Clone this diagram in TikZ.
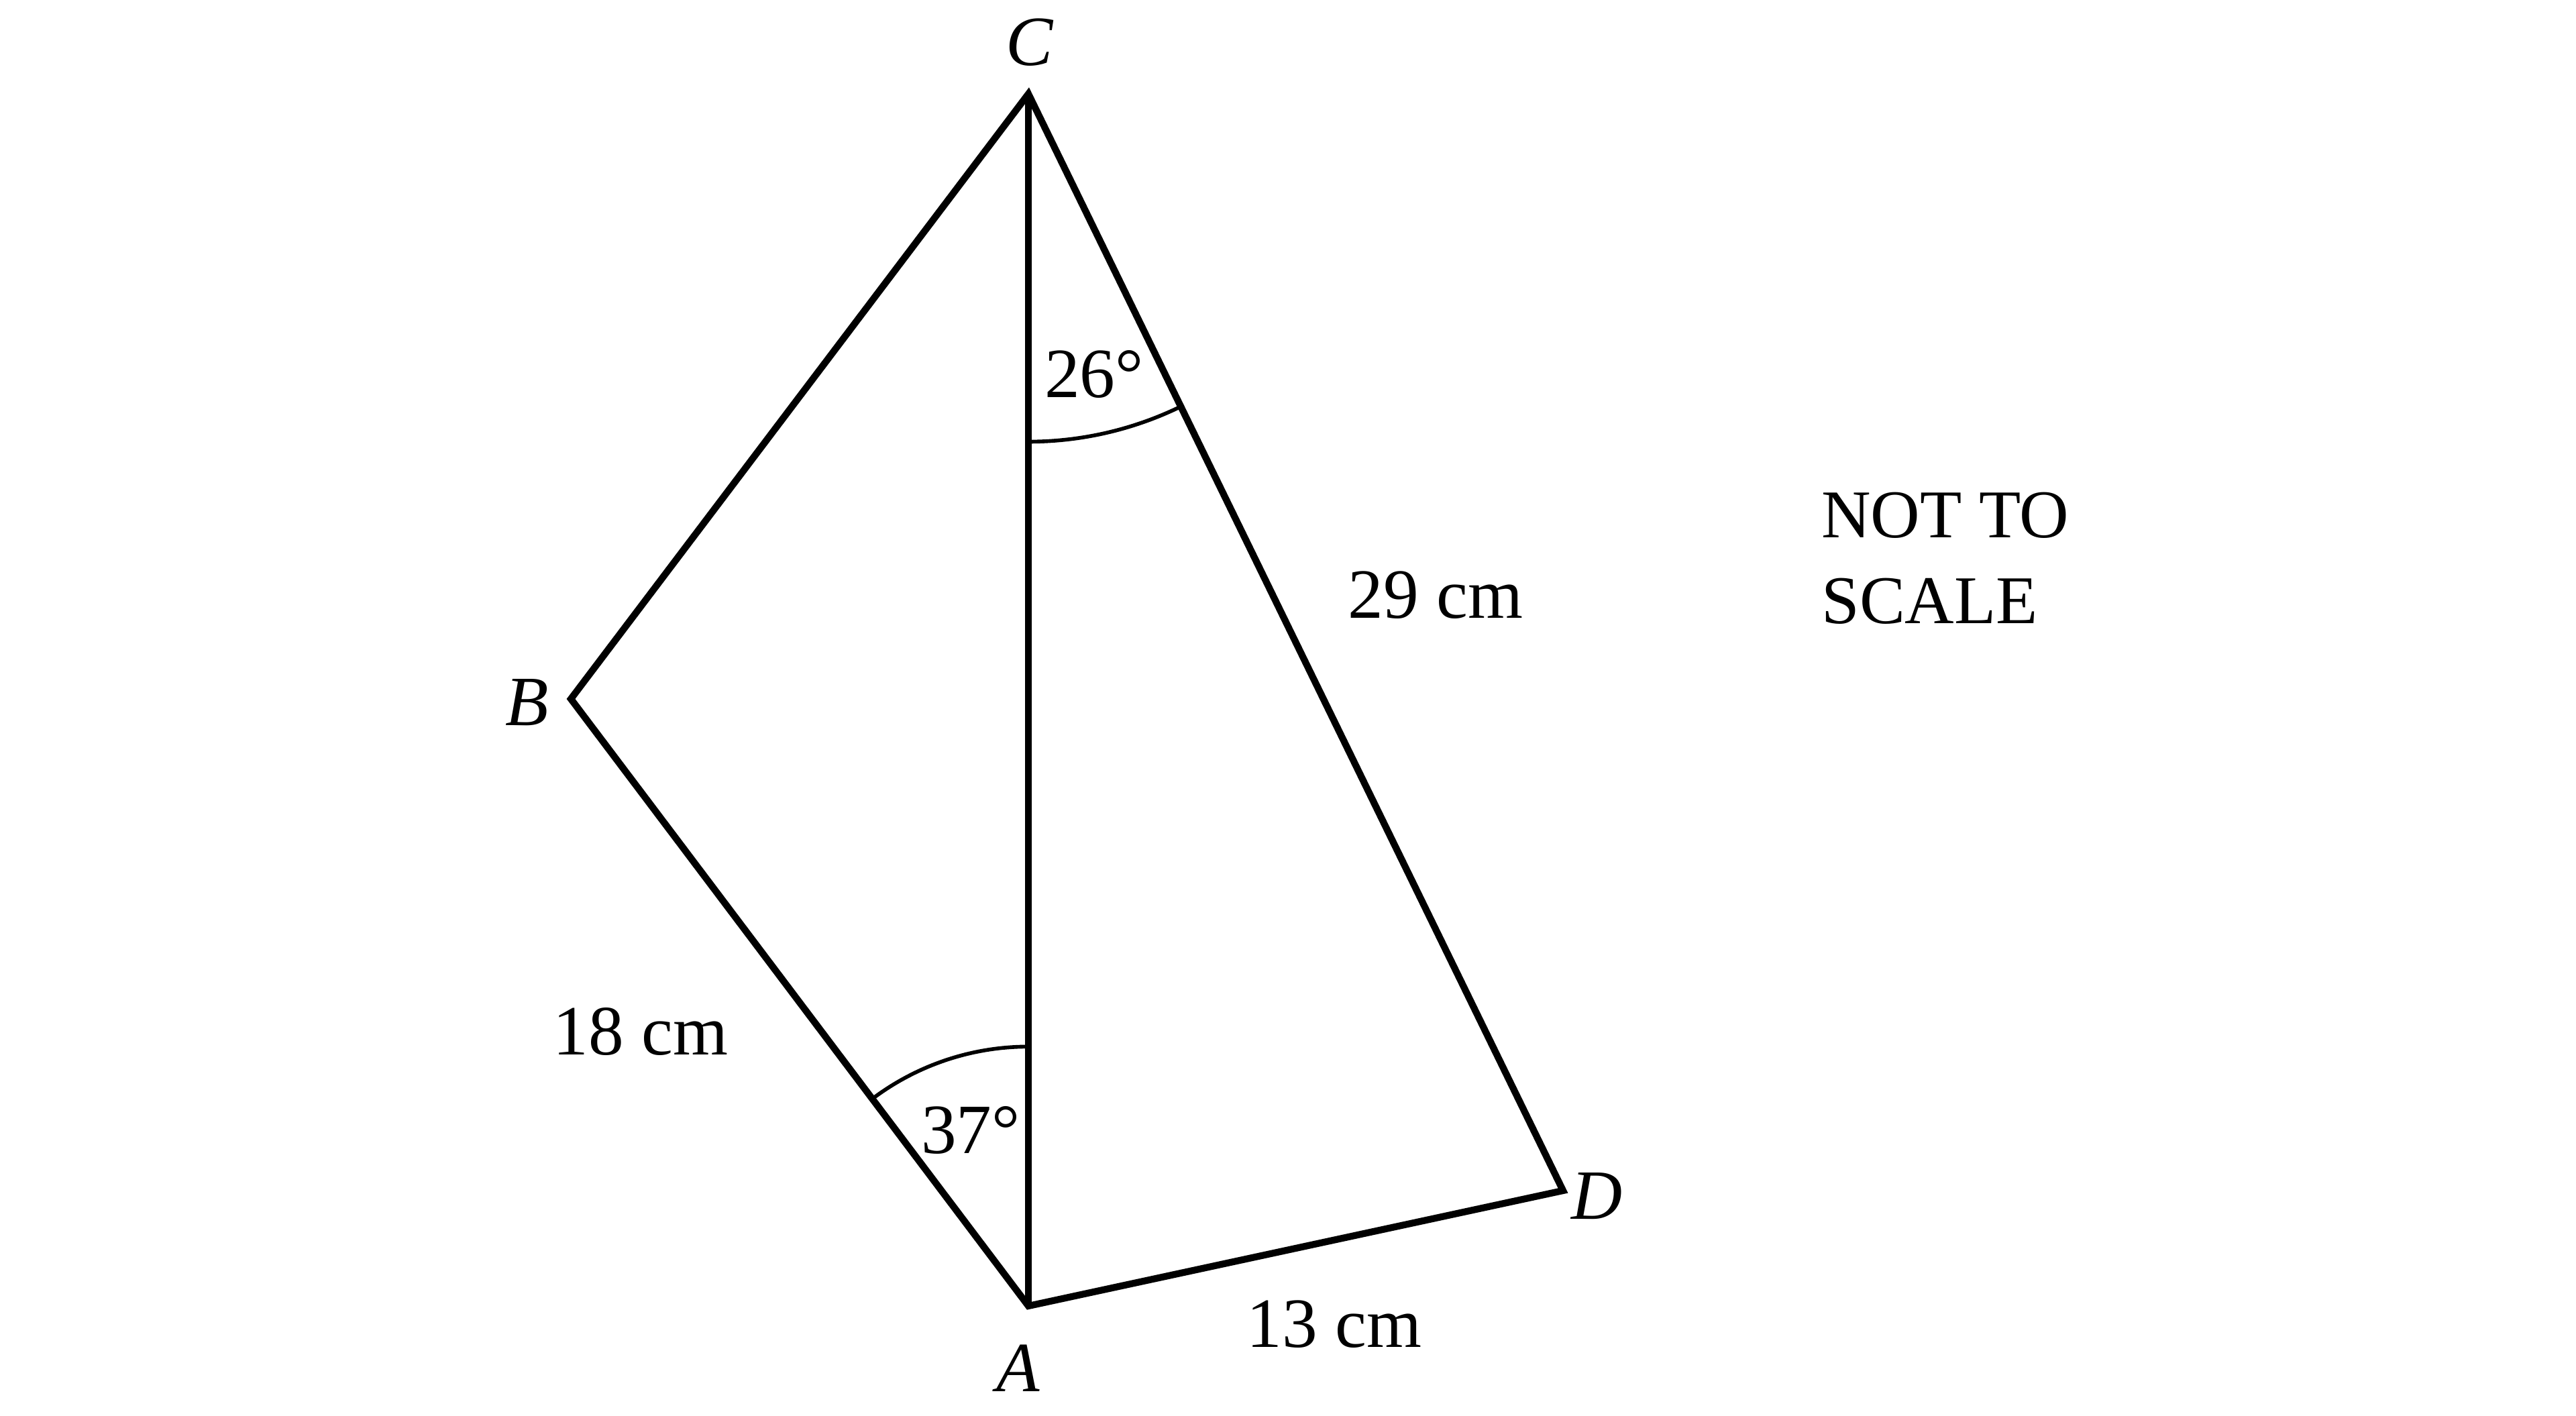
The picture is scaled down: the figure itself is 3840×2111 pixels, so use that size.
\documentclass[tikz,border=0pt]{standalone}
\usepackage{fontspec}
\setmainfont{Liberation Serif}
\usetikzlibrary{calc}
\begin{document}
\begin{tikzpicture}[x=0.005cm,y=0.005cm,
  edge/.style={line width=1.45pt,line join=miter},
  anglearc/.style={line width=0.8pt},
  lbl/.style={inner sep=0pt,font=\fontsize{15}{18}\selectfont},
  vlbl/.style={lbl,font=\fontsize{15}{18}\selectfont\itshape},
  note/.style={inner sep=0pt,anchor=base west,font=\fontsize{14.5}{18}\selectfont}]
\useasboundingbox (0,0) rectangle (3840,2111);
\coordinate (A) at (1533,164);
\coordinate (C) at (1533,1971);
\coordinate (B) at (851,1069);
\coordinate (D) at (2330,336);
\draw[edge] (A) -- (B) -- (C) -- (D) -- cycle;
\draw[edge] (A) -- (C);
\draw[anglearc] ([shift={(90:1.935cm)}]A) arc (90:127:1.935cm);
\draw[anglearc] ([shift={(270:2.595cm)}]C) arc (270:296:2.595cm);
\node[vlbl] (lC) at (1535,2048) {C};
\node[vlbl] (lB) at (786,1064) {B};
\node[vlbl] (lD) at (2380,328) {D};
\node[vlbl] (lA) at (1518,71) {A};
\node[lbl] (a26) at (1631,1553) {26°};
\node[lbl] (a37) at (1447,426) {37°};
\node[lbl] (s29) at (2140,1224) {29 cm};
\node[lbl] (s18) at (955,573) {18 cm};
\node[lbl] (s13) at (1989,137) {13 cm};
\node[note] (n1) at (2714,1309) {NOT TO};
\node[note] (n2) at (2714,1181) {SCALE};
\end{tikzpicture}
\end{document}
